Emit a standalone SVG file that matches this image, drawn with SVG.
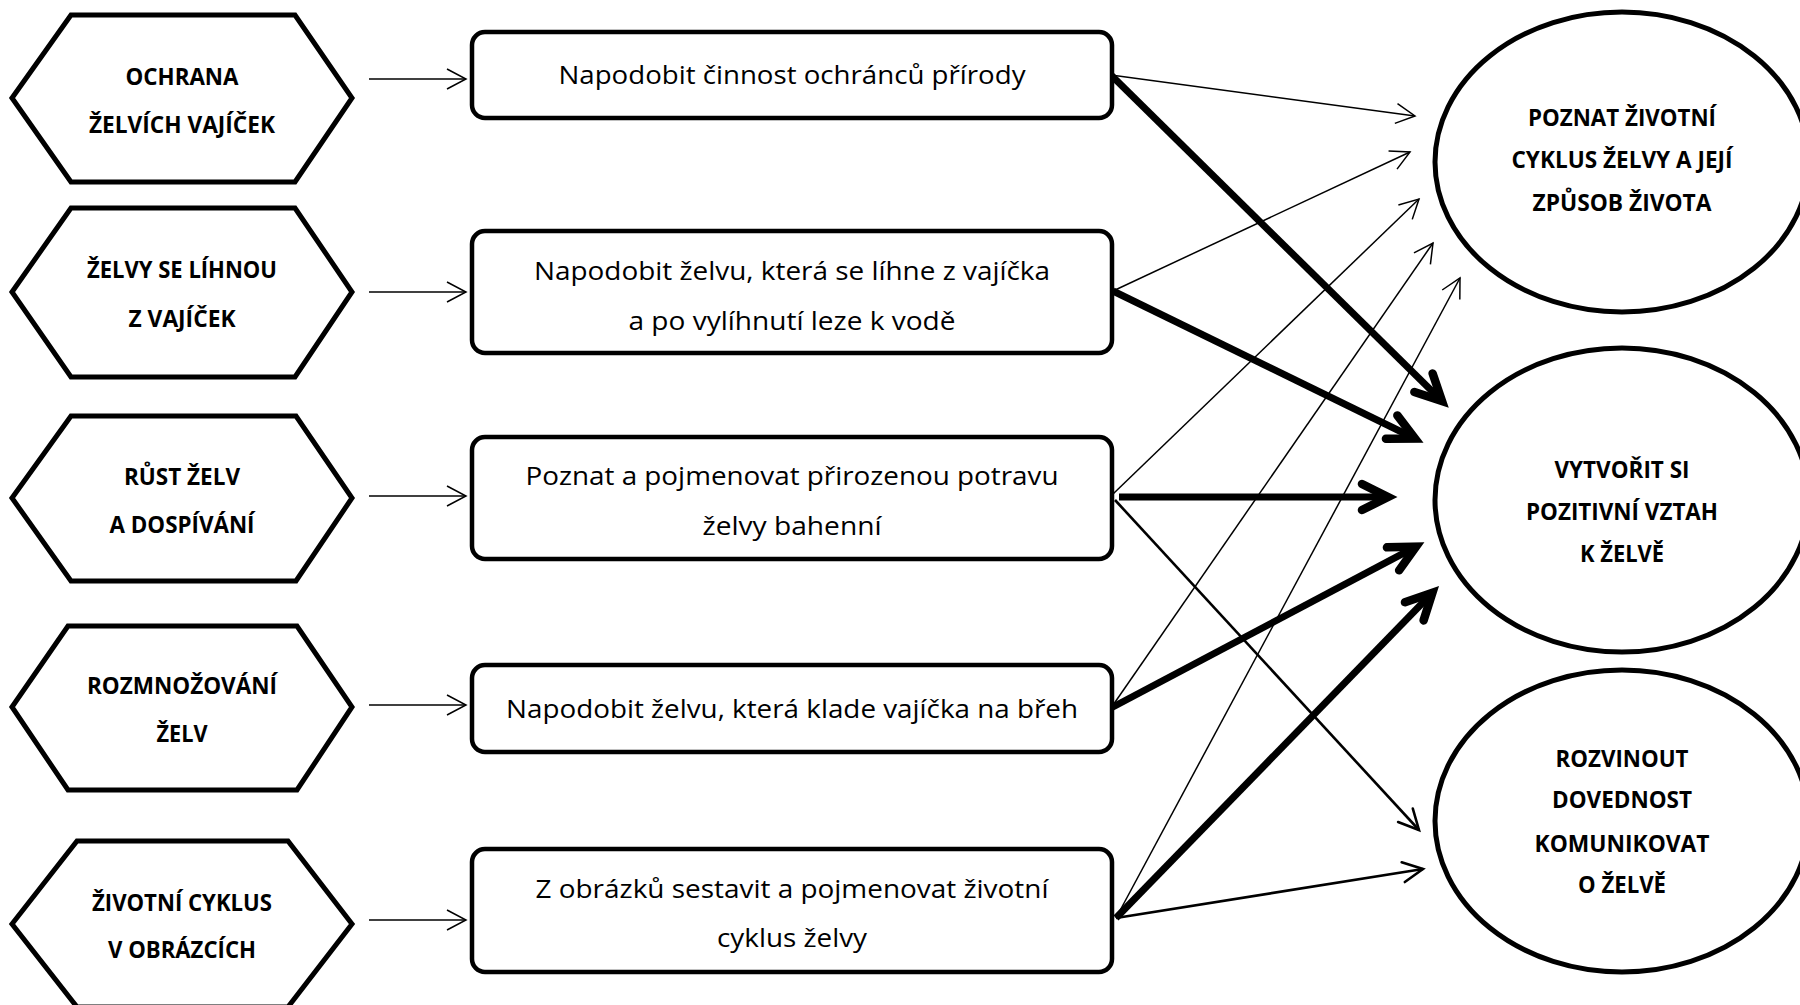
<svg xmlns="http://www.w3.org/2000/svg" width="1800" height="1005" viewBox="0 0 1800 1005">
  <style>
    .hex { fill: #fff; stroke: #000; stroke-width: 5; stroke-linejoin: miter; }
    .box { fill: #fff; stroke: #000; stroke-width: 4.5; }
    .ell { fill: #fff; stroke: #000; stroke-width: 5; }
    .bold { font-family: "Open Sans", "Noto Sans", "Liberation Sans", sans-serif; font-weight: bold; font-size: 23px; fill: #000; text-anchor: middle; }
    .reg { font-family: "Open Sans", "Noto Sans", "Liberation Sans", sans-serif; font-size: 26px; fill: #000; text-anchor: middle; }
    .thin { stroke: #000; stroke-width: 1.5; fill: none; marker-end: url(#mThin); }
    .med { stroke: #000; stroke-width: 2.6; fill: none; marker-end: url(#mMed); }
    .thick { stroke: #000; stroke-width: 7; fill: none; marker-end: url(#mThick); }
  </style>
  <defs>
    <marker id="mThin" markerUnits="userSpaceOnUse" viewBox="-24 -14 28 28" markerWidth="28" markerHeight="28" refX="0" refY="0" orient="auto" overflow="visible">
      <path d="M-19,-10 L0,0 L-19,10" fill="none" stroke="#000" stroke-width="1.5"/>
    </marker>
    <marker id="mMed" markerUnits="userSpaceOnUse" viewBox="-24 -14 28 28" markerWidth="28" markerHeight="28" refX="0" refY="0" orient="auto" overflow="visible">
      <path d="M-20,-10 L0,0 L-20,10" fill="none" stroke="#000" stroke-width="2.6" stroke-linecap="round"/>
    </marker>
    <marker id="mThick" markerUnits="userSpaceOnUse" viewBox="-34 -20 48 40" markerWidth="48" markerHeight="40" refX="0" refY="0" orient="auto" overflow="visible">
      <path d="M-26,-13 L0,0 L-26,13" fill="none" stroke="#000" stroke-width="8.5" stroke-linecap="round" stroke-linejoin="miter"/>
    </marker>
  </defs>

  <rect width="1800" height="1005" fill="#fff"/>

  <g id="connectors">
    <!-- hexagon to box -->
    <line class="thin" x1="369" y1="79" x2="466" y2="79"/>
    <line class="thin" x1="369" y1="292" x2="466" y2="292"/>
    <line class="thin" x1="369" y1="496" x2="466" y2="496"/>
    <line class="thin" x1="369" y1="705" x2="466" y2="705"/>
    <line class="thin" x1="369" y1="920" x2="466" y2="920"/>
    <!-- box to goal: thin -->
    <line class="thin" x1="1111" y1="75" x2="1415" y2="116"/>
    <line class="thin" x1="1113" y1="291" x2="1410" y2="152"/>
    <line class="thin" x1="1113" y1="494" x2="1419" y2="199"/>
    <line class="thin" x1="1111" y1="708" x2="1433" y2="243"/>
    <line class="thin" x1="1116" y1="918" x2="1460" y2="278"/>
    <!-- medium -->
    <line class="med" x1="1115" y1="500" x2="1419" y2="830"/>
    <line class="med" x1="1116" y1="918" x2="1423" y2="869"/>
    <!-- thick -->
    <line class="thick" x1="1111" y1="75" x2="1442" y2="401"/>
    <line class="thick" x1="1113" y1="291" x2="1415" y2="438.5"/>
    <line class="thick" x1="1119" y1="497" x2="1388" y2="497"/>
    <line class="thick" x1="1111" y1="708" x2="1416" y2="546.7"/>
    <line class="thick" x1="1116" y1="918" x2="1432.4" y2="592.7"/>
  </g>

  <g id="hex1">
    <polygon class="hex" points="12,98 71,15 295,15 352,98 295,182 71,182"/>
    <text class="bold" x="182" y="85" textLength="113" lengthAdjust="spacingAndGlyphs">OCHRANA</text>
    <text class="bold" x="182" y="133" textLength="186" lengthAdjust="spacingAndGlyphs">ŽELVÍCH VAJÍČEK</text>
  </g>
  <g id="hex2">
    <polygon class="hex" points="12,292 71,208 295,208 352,292 295,377 71,377"/>
    <text class="bold" x="182" y="278" textLength="190" lengthAdjust="spacingAndGlyphs">ŽELVY SE LÍHNOU</text>
    <text class="bold" x="182" y="327" textLength="107" lengthAdjust="spacingAndGlyphs">Z VAJÍČEK</text>
  </g>
  <g id="hex3">
    <polygon class="hex" points="12,498 71,416 296,416 352,498 296,581 71,581"/>
    <text class="bold" x="182" y="485" textLength="116" lengthAdjust="spacingAndGlyphs">RŮST ŽELV</text>
    <text class="bold" x="182" y="533" textLength="145" lengthAdjust="spacingAndGlyphs">A DOSPÍVÁNÍ</text>
  </g>
  <g id="hex4">
    <polygon class="hex" points="12,707 68,626 297,626 352,707 297,790 68,790"/>
    <text class="bold" x="182" y="694" textLength="190" lengthAdjust="spacingAndGlyphs">ROZMNOŽOVÁNÍ</text>
    <text class="bold" x="182" y="742" textLength="51" lengthAdjust="spacingAndGlyphs">ŽELV</text>
  </g>
  <g id="hex5">
    <polygon class="hex" points="12,924 77,841 288,841 352,924 288,1007 77,1007"/>
    <text class="bold" x="182" y="911" textLength="180" lengthAdjust="spacingAndGlyphs">ŽIVOTNÍ CYKLUS</text>
    <text class="bold" x="182" y="958" textLength="148" lengthAdjust="spacingAndGlyphs">V OBRÁZCÍCH</text>
  </g>

  <g id="box1">
    <rect class="box" x="472" y="32" width="640" height="86" rx="13"/>
    <text class="reg" x="792" y="84" textLength="467" lengthAdjust="spacingAndGlyphs">Napodobit činnost ochránců přírody</text>
  </g>
  <g id="box2">
    <rect class="box" x="472" y="231" width="640" height="122" rx="13"/>
    <text class="reg" x="792" y="280" textLength="516" lengthAdjust="spacingAndGlyphs">Napodobit želvu, která se líhne z vajíčka</text>
    <text class="reg" x="792" y="330" textLength="327" lengthAdjust="spacingAndGlyphs">a po vylíhnutí leze k vodě</text>
  </g>
  <g id="box3">
    <rect class="box" x="472" y="437" width="640" height="122" rx="13"/>
    <text class="reg" x="792" y="485" textLength="533" lengthAdjust="spacingAndGlyphs">Poznat a pojmenovat přirozenou potravu</text>
    <text class="reg" x="792" y="535" textLength="179" lengthAdjust="spacingAndGlyphs">želvy bahenní</text>
  </g>
  <g id="box4">
    <rect class="box" x="472" y="665" width="640" height="87" rx="13"/>
    <text class="reg" x="792" y="718" textLength="572" lengthAdjust="spacingAndGlyphs">Napodobit želvu, která klade vajíčka na břeh</text>
  </g>
  <g id="box5">
    <rect class="box" x="472" y="849" width="640" height="123" rx="13"/>
    <text class="reg" x="792" y="898" textLength="513" lengthAdjust="spacingAndGlyphs">Z obrázků sestavit a pojmenovat životní</text>
    <text class="reg" x="792" y="947" textLength="150" lengthAdjust="spacingAndGlyphs">cyklus želvy</text>
  </g>

  <g id="goal1">
    <ellipse class="ell" cx="1622" cy="162" rx="187" ry="150"/>
    <text class="bold" x="1622" y="126" textLength="188" lengthAdjust="spacingAndGlyphs">POZNAT ŽIVOTNÍ</text>
    <text class="bold" x="1622" y="168" textLength="221" lengthAdjust="spacingAndGlyphs">CYKLUS ŽELVY A JEJÍ</text>
    <text class="bold" x="1622" y="211" textLength="179" lengthAdjust="spacingAndGlyphs">ZPŮSOB ŽIVOTA</text>
  </g>
  <g id="goal2">
    <ellipse class="ell" cx="1622" cy="500" rx="187" ry="152"/>
    <text class="bold" x="1622" y="478" textLength="135" lengthAdjust="spacingAndGlyphs">VYTVOŘIT SI</text>
    <text class="bold" x="1622" y="520" textLength="192" lengthAdjust="spacingAndGlyphs">POZITIVNÍ VZTAH</text>
    <text class="bold" x="1622" y="562" textLength="84" lengthAdjust="spacingAndGlyphs">K ŽELVĚ</text>
  </g>
  <g id="goal3">
    <ellipse class="ell" cx="1622" cy="821" rx="187" ry="151"/>
    <text class="bold" x="1622" y="767" textLength="133" lengthAdjust="spacingAndGlyphs">ROZVINOUT</text>
    <text class="bold" x="1622" y="808" textLength="140" lengthAdjust="spacingAndGlyphs">DOVEDNOST</text>
    <text class="bold" x="1622" y="852" textLength="175" lengthAdjust="spacingAndGlyphs">KOMUNIKOVAT</text>
    <text class="bold" x="1622" y="893" textLength="88" lengthAdjust="spacingAndGlyphs">O ŽELVĚ</text>
  </g>
</svg>
